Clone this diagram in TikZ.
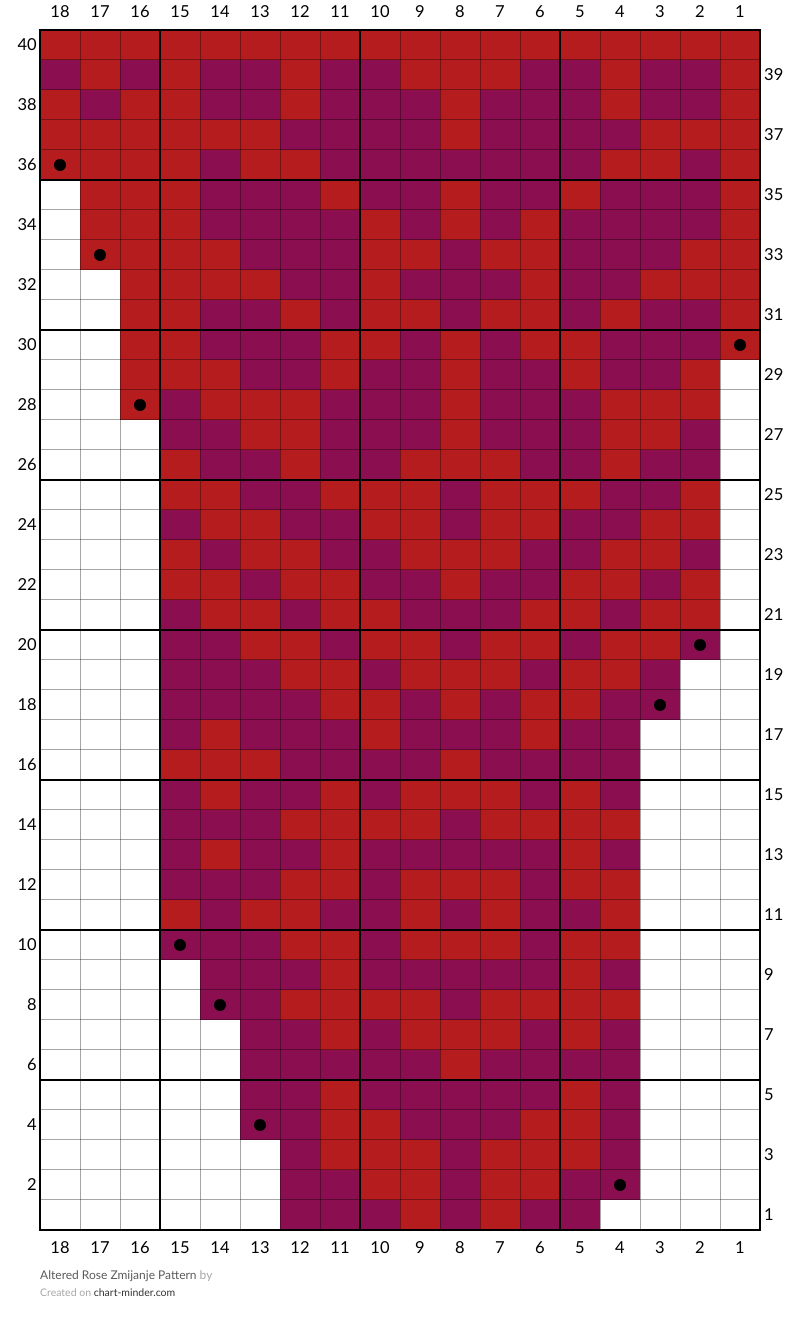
\documentclass[tikz,border=0pt]{standalone}
\usepackage{fontspec}
\setmainfont{Lato}
\definecolor{cellR}{HTML}{B41C1E}
\definecolor{cellP}{HTML}{8A0E50}
\colorlet{cellW}{white}
\definecolor{footgrey}{HTML}{5A5A5A}

\begin{document}
\begin{tikzpicture}[x=1pt,y=1pt,
    gridline/.style={black,opacity=.35,line width=1pt},
    blockline/.style={black,line width=2.5pt},
    bead/.style={circle,fill=black,inner sep=0pt,minimum size=12pt},
    numlabel/.style={font=\fontsize{16.5}{18}\selectfont,inner sep=0pt}]
    \useasboundingbox (0,0) rectangle (800,1323);

    \foreach \r/\cells in {
        40/{R,R,R,R,R,R,R,R,R,R,R,R,R,R,R,R,R,R},
        39/{P,R,P,R,P,P,R,P,P,R,R,R,P,P,R,P,P,R},
        38/{R,P,R,R,P,P,R,P,P,P,R,P,P,P,R,P,P,R},
        37/{R,R,R,R,R,R,P,P,P,P,R,P,P,P,P,R,R,R},
        36/{R,R,R,R,P,R,R,P,P,P,P,P,P,P,R,R,P,R},
        35/{W,R,R,R,P,P,P,R,P,P,R,P,P,R,P,P,P,R},
        34/{W,R,R,R,P,P,P,P,R,P,R,P,R,P,P,P,P,R},
        33/{W,R,R,R,R,P,P,P,R,R,P,R,R,P,P,P,R,R},
        32/{W,W,R,R,R,R,P,P,R,P,P,P,R,P,P,R,R,R},
        31/{W,W,R,R,P,P,R,P,R,R,P,R,R,P,R,P,P,R},
        30/{W,W,R,R,P,P,P,R,R,P,R,P,R,R,P,P,P,R},
        29/{W,W,R,R,R,P,P,R,P,P,R,P,P,R,P,P,R,W},
        28/{W,W,R,P,R,R,R,P,P,P,R,P,P,P,R,R,R,W},
        27/{W,W,W,P,P,R,R,P,P,P,R,P,P,P,R,R,P,W},
        26/{W,W,W,R,P,P,R,P,P,R,R,R,P,P,R,P,P,W},
        25/{W,W,W,R,R,P,P,R,R,R,P,R,R,R,P,P,R,W},
        24/{W,W,W,P,R,R,P,P,R,R,P,R,R,P,P,R,R,W},
        23/{W,W,W,R,P,R,R,P,P,R,R,R,P,P,R,R,P,W},
        22/{W,W,W,R,R,P,R,R,P,P,R,P,P,R,R,P,R,W},
        21/{W,W,W,P,R,R,P,R,R,P,P,P,R,R,P,R,R,W},
        20/{W,W,W,P,P,R,R,P,R,R,P,R,R,P,R,R,P,W},
        19/{W,W,W,P,P,P,R,R,P,R,R,R,P,R,R,P,W,W},
        18/{W,W,W,P,P,P,P,R,R,P,R,P,R,R,P,P,W,W},
        17/{W,W,W,P,R,P,P,P,R,P,P,P,R,P,P,W,W,W},
        16/{W,W,W,R,R,R,P,P,P,P,R,P,P,P,P,W,W,W},
        15/{W,W,W,P,R,P,P,R,P,R,R,R,P,R,P,W,W,W},
        14/{W,W,W,P,P,P,R,R,R,R,P,R,R,R,R,W,W,W},
        13/{W,W,W,P,R,P,P,R,P,P,P,P,P,R,P,W,W,W},
        12/{W,W,W,P,P,P,R,R,P,R,R,R,P,R,R,W,W,W},
        11/{W,W,W,R,P,R,R,P,P,R,P,R,P,P,R,W,W,W},
        10/{W,W,W,P,P,P,R,R,P,R,R,R,P,R,R,W,W,W},
        9/{W,W,W,W,P,P,P,R,P,P,P,P,P,R,P,W,W,W},
        8/{W,W,W,W,P,P,R,R,R,R,P,R,R,R,R,W,W,W},
        7/{W,W,W,W,W,P,P,R,P,R,R,R,P,R,P,W,W,W},
        6/{W,W,W,W,W,P,P,P,P,P,R,P,P,P,P,W,W,W},
        5/{W,W,W,W,W,P,P,R,P,P,P,P,P,R,P,W,W,W},
        4/{W,W,W,W,W,P,P,R,R,P,P,P,R,R,P,W,W,W},
        3/{W,W,W,W,W,W,P,R,R,R,P,R,R,R,P,W,W,W},
        2/{W,W,W,W,W,W,P,P,R,R,P,R,R,P,P,W,W,W},
        1/{W,W,W,W,W,W,P,P,P,R,P,R,P,P,W,W,W,W}}{
        \foreach \c [count=\i] in \cells
            \fill[fill=cell\c] (40*\i,63+30*\r) rectangle ++(40,30);
    }

    \foreach \x in {40,80,...,760} \draw[gridline] (\x,93) -- (\x,1293);
    \foreach \y in {93,123,...,1293} \draw[gridline] (40,\y) -- (760,\y);
    \foreach \x in {160,360,560} \draw[blockline] (\x,93) -- (\x,1293);
    \foreach \y in {243,393,...,1143} \draw[blockline] (40,\y) -- (760,\y);
    \draw[blockline] (40,93) rectangle (760,1293);

    \foreach \c/\r [count=\k] in {18/36,17/33,1/30,16/28,2/20,3/18,15/10,14/8,13/4,4/2}
        \node[bead] (bead\k) at (780-40*\c,78+30*\r) {};

    \foreach \n in {1,...,18}{
        \node[numlabel] (top\n) at (780-40*\n,1311) {\n};
        \node[numlabel] (bot\n) at (780-40*\n,75) {\n};
    }
    \foreach \n in {2,4,...,40} \node[numlabel,anchor=east] (row\n) at (37,78+30*\n) {\n};
    \foreach \n in {1,3,...,39} \node[numlabel,anchor=west] (row\n) at (764,78+30*\n) {\n};

    \node[anchor=base west,inner sep=0pt,font=\fontsize{12}{14}\selectfont,text=footgrey] (title) at (40,43) {Altered Rose Zmijanje Pattern \textcolor{gray!70}{by}};
    \node[anchor=base west,inner sep=0pt,font=\fontsize{10.5}{12}\selectfont,text=gray!70] (credit) at (40,27) {Created on \textcolor{black!80}{chart-minder.com}};
\end{tikzpicture}
\end{document}
